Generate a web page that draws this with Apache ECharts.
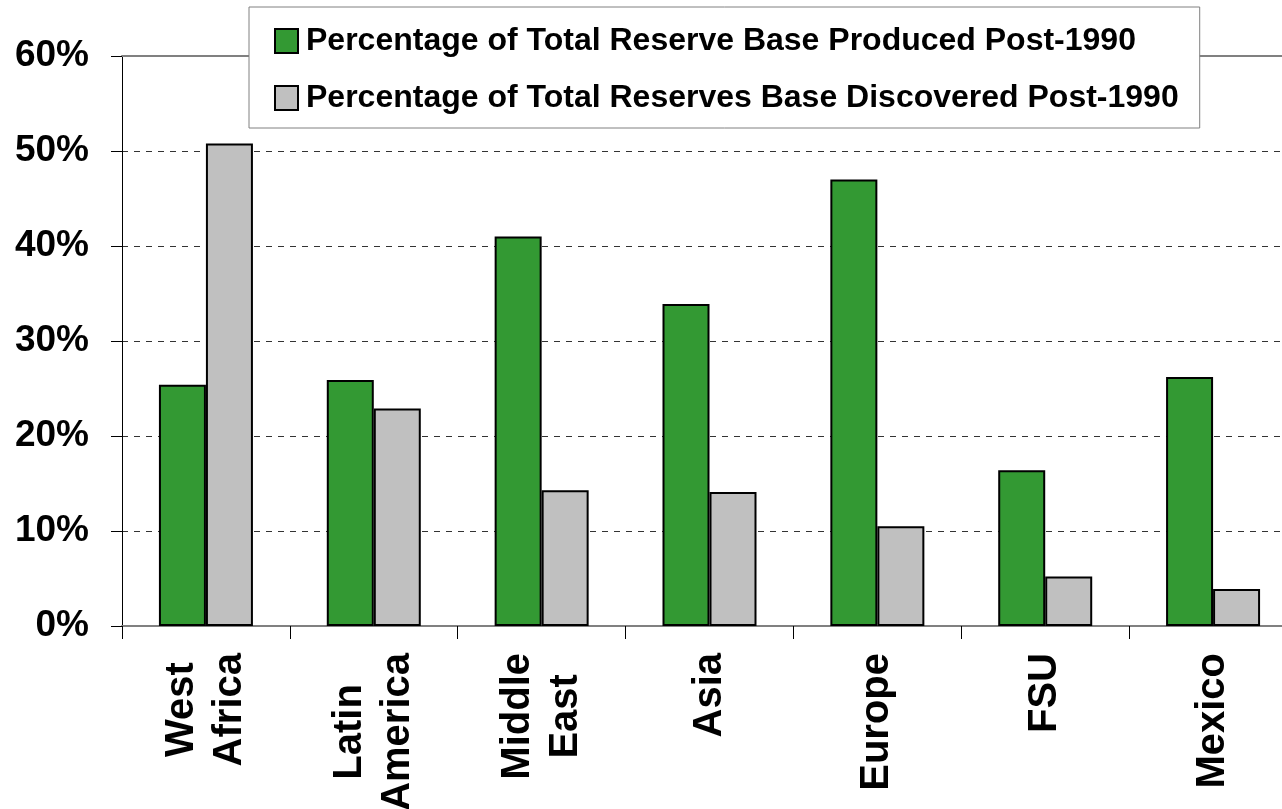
<!DOCTYPE html>
<html>
<head>
<meta charset="utf-8">
<title>Reserve Base Produced vs Discovered Post-1990</title>
<script src="https://cdn.jsdelivr.net/npm/echarts@6/dist/echarts.min.js"></script>
<style>
  html, body { margin: 0; padding: 0; background: #ffffff; overflow: hidden; }
  #chart { width: 1282px; height: 809px; }
</style>
</head>
<body>
<div id="chart"></div>
<script>
// Regions along the category axis
const regions = ['West\nAfrica', 'Latin\nAmerica', 'Middle\nEast', 'Asia', 'Europe', 'FSU', 'Mexico'];

// Percent of total reserve base produced after 1990
const producedPost1990 = [25.4, 25.9, 41.0, 33.9, 47.0, 16.4, 26.2];

// Percent of total reserve base discovered after 1990
const discoveredPost1990 = [50.8, 22.9, 14.3, 14.1, 10.5, 5.2, 3.9];

const seriesNames = [
  'Percentage of Total Reserve Base Produced Post-1990',
  'Percentage of Total Reserves Base Discovered Post-1990'
];

const FONT = "'Liberation Sans', Arial, Helvetica, sans-serif";

const chart = echarts.init(document.getElementById('chart'), null, { renderer: 'canvas' });

chart.setOption({
  backgroundColor: '#ffffff',
  animation: false,
  grid: {
    left: 122,
    top: 56,
    width: 1175,
    height: 570,
    containLabel: false,
    outerBoundsMode: 'none'
  },
  legend: {
    data: seriesNames,
    orient: 'vertical',
    left: 249,
    top: 7,
    padding: [17, 21, 13, 25],
    icon: 'rect',
    itemWidth: 23,
    itemHeight: 24,
    itemGap: 23,
    backgroundColor: '#ffffff',
    borderColor: '#808080',
    borderWidth: 1,
    borderRadius: 0,
    textStyle: {
      fontFamily: FONT,
      fontWeight: 'bold',
      fontSize: 32,
      lineHeight: 34,
      color: '#000000',
      padding: [0, 0, 0, 3]
    }
  },
  xAxis: [
    {
      type: 'category',
      data: regions,
      position: 'bottom',
      axisLine: { lineStyle: { color: '#808080', width: 2 } },
      axisTick: { show: true, length: 13, lineStyle: { color: '#000000', width: 1 } },
      axisLabel: {
        rotate: 90,
        margin: 27,
        interval: 0,
        color: '#000000',
        fontFamily: FONT,
        fontWeight: 'bold',
        fontSize: 40,
        lineHeight: 48,
        formatter: function (v) {
          return v.split('\n').map(function (s) { return '{c|' + s + '}'; }).join('\n');
        },
        rich: {
          c: {
            align: 'center',
            fontFamily: FONT,
            fontWeight: 'bold',
            fontSize: 40,
            lineHeight: 48,
            color: '#000000'
          }
        }
      },
      splitLine: { show: false }
    },
    {
      // upper frame line of the plot area
      type: 'category',
      data: regions,
      position: 'top',
      axisLine: { show: true, lineStyle: { color: '#808080', width: 2 } },
      axisTick: { show: false },
      axisLabel: { show: false },
      splitLine: { show: false }
    }
  ],
  yAxis: {
    type: 'value',
    min: 0,
    max: 60,
    interval: 10,
    axisLine: { show: true, lineStyle: { color: '#000000', width: 1 } },
    axisTick: { show: true, length: 11, lineStyle: { color: '#000000', width: 1 } },
    axisLabel: {
      margin: 33,
      color: '#000000',
      fontFamily: FONT,
      fontWeight: 'bold',
      fontSize: 37,
      formatter: '{value}%'
    },
    splitLine: {
      show: true,
      lineStyle: { color: '#333333', width: 1, type: [6, 6] }
    }
  },
  series: [
    {
      name: seriesNames[0],
      type: 'bar',
      xAxisIndex: 0,
      data: producedPost1990,
      barWidth: 47,
      barGap: '0%',
      itemStyle: { color: '#339933', borderColor: '#000000', borderWidth: 2 }
    },
    {
      name: seriesNames[1],
      type: 'bar',
      xAxisIndex: 0,
      data: discoveredPost1990,
      barWidth: 47,
      barGap: '0%',
      itemStyle: { color: '#c0c0c0', borderColor: '#000000', borderWidth: 2 }
    }
  ]
});
</script>
</body>
</html>
